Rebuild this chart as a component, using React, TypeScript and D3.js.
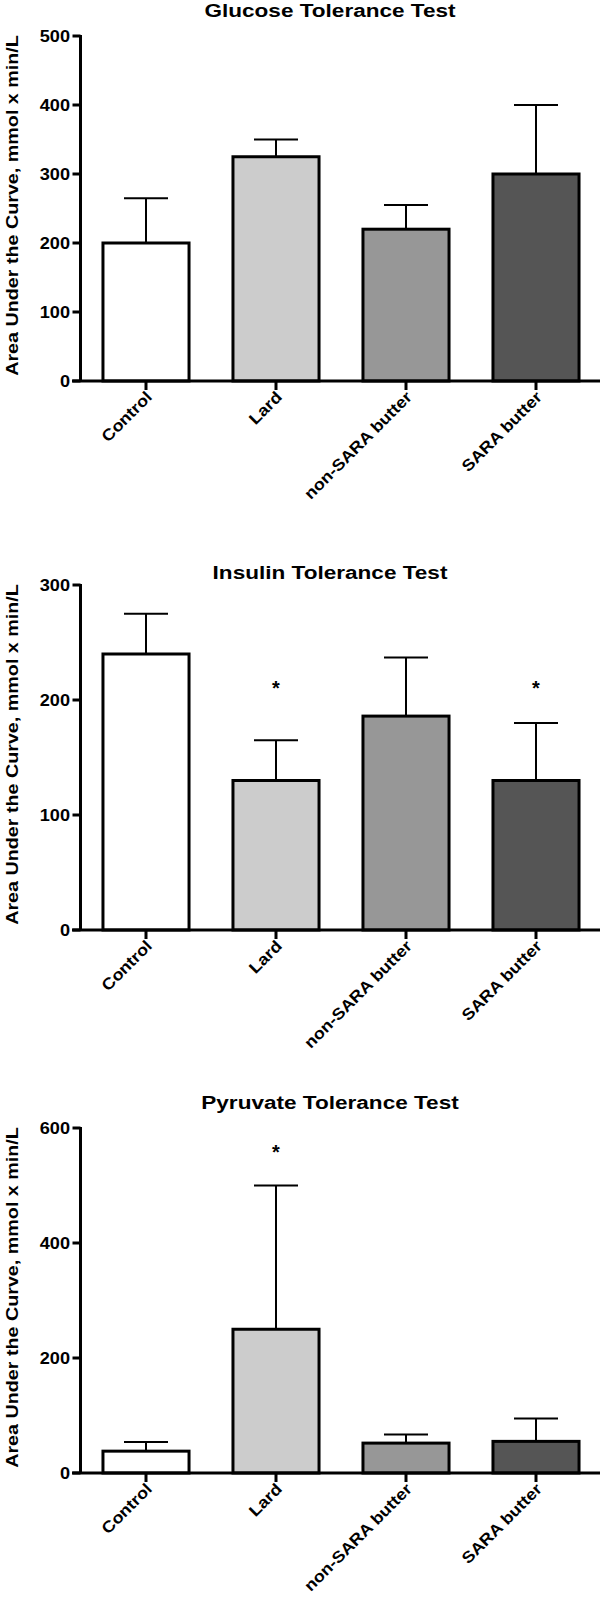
import React from "react";
import * as d3 from "d3";

const categories = ["Control", "Lard", "non-SARA butter", "SARA butter"];
const fills = ["#ffffff", "#cccccc", "#979797", "#555555"];

const glucoseMeans = [200, 325, 220, 300];
const glucoseErr = [65, 25, 35, 100];
const glucoseTicks = [0, 100, 200, 300, 400, 500];
const glucoseStars = [null, null, null, null];

const insulinMeans = [240, 130, 186, 130];
const insulinErr = [35, 35, 51, 50];
const insulinTicks = [0, 100, 200, 300];
const insulinStars = [null, 214, null, 214];

const pyruvateMeans = [38, 250, 52, 55];
const pyruvateErr = [16, 250, 15, 40];
const pyruvateTicks = [0, 200, 400, 600];
const pyruvateStars = [null, 566, null, null];

const titles = ["Glucose Tolerance Test", "Insulin Tolerance Test", "Pyruvate Tolerance Test"];
const titleGaps = [19, 6, 19];
const yLabel = "Area Under the Curve, mmol x min/L";

const FONT = "'Liberation Sans', Arial, Helvetica, sans-serif";
const W = 600;
const H = 1603;
const PLOT_H = 345;
const AXIS_X = 80.5;

type PanelProps = {
  top: number;
  title: string;
  titleGap: number;
  means: number[];
  errs: number[];
  ticks: number[];
  stars: (number | null)[];
};

function Panel({ top, title, titleGap, means, errs, ticks, stars }: PanelProps) {
  const yMax = ticks[ticks.length - 1];
  const y = d3.scaleLinear().domain([0, yMax]).range([top + PLOT_H, top]);
  const x = d3
    .scaleBand<string>()
    .domain(categories)
    .range([81, 601])
    .paddingInner(0.338)
    .paddingOuter(0.169);
  const bw = x.bandwidth();
  const base = y(0);
  return (
    <g>
      <text
        transform={`translate(330,${top - titleGap}) scale(1.22,1)`}
        textAnchor="middle"
        fontFamily={FONT}
        fontWeight="bold"
        fontSize={18.5}
      >
        {title}
      </text>
      <text
        transform={`translate(18,${top + PLOT_H / 2 - 3}) rotate(-90) scale(1.16,1)`}
        textAnchor="middle"
        fontFamily={FONT}
        fontWeight="bold"
        fontSize={17}
      >
        {yLabel}
      </text>
      {categories.map((c, i) => {
        const x0 = x(c)!;
        const cx = x0 + bw / 2;
        const yTop = y(means[i]);
        const yErr = y(means[i] + errs[i]);
        return (
          <g key={c}>
            <line x1={cx} x2={cx} y1={yTop} y2={yErr} stroke="#000" strokeWidth={2} />
            <line x1={cx - 22} x2={cx + 22} y1={yErr} y2={yErr} stroke="#000" strokeWidth={2} />
            <rect
              x={x0}
              y={yTop}
              width={bw}
              height={base - yTop}
              fill={fills[i]}
              stroke="#000"
              strokeWidth={3}
            />
            {stars[i] != null && (
              <text
                x={cx}
                y={y(stars[i] as number) + 11}
                textAnchor="middle"
                fontFamily={FONT}
                fontWeight="bold"
                fontSize={20}
              >
                *
              </text>
            )}
          </g>
        );
      })}
      {/* y axis */}
      <line x1={AXIS_X} x2={AXIS_X} y1={top - 1} y2={base} stroke="#000" strokeWidth={3} />
      {ticks.map((t) => (
        <g key={t}>
          <line x1={AXIS_X - 8} x2={AXIS_X} y1={y(t)} y2={y(t)} stroke="#000" strokeWidth={3} />
          <text
            transform={`translate(70,${y(t)}) scale(1.1,1)`}
            dy="0.36em"
            textAnchor="end"
            fontFamily={FONT}
            fontWeight="bold"
            fontSize={16.5}
          >
            {t}
          </text>
        </g>
      ))}
      {/* x axis */}
      <line x1={72} x2={600} y1={base} y2={base} stroke="#000" strokeWidth={3} />
      {categories.map((c) => {
        const cx = x(c)! + bw / 2;
        return (
          <g key={"t" + c}>
            <line x1={cx} x2={cx} y1={base} y2={base + 9} stroke="#000" strokeWidth={3} />
            <text
              transform={`translate(${cx + 7},${base + 17}) rotate(-45) scale(1.12,1)`}
              textAnchor="end"
              fontFamily={FONT}
              fontWeight="bold"
              fontSize={16}
            >
              {c}
            </text>
          </g>
        );
      })}
    </g>
  );
}

export default function App() {
  return (
    <svg
      width={W}
      height={H}
      viewBox={`0 0 ${W} ${H}`}
      style={{ position: "absolute", left: 0, top: 0, background: "#fff" }}
    >
      <rect x={0} y={0} width={W} height={H} fill="#fff" />
      {[
        { means: glucoseMeans, errs: glucoseErr, ticks: glucoseTicks, stars: glucoseStars, top: 36 },
        { means: insulinMeans, errs: insulinErr, ticks: insulinTicks, stars: insulinStars, top: 585 },
        { means: pyruvateMeans, errs: pyruvateErr, ticks: pyruvateTicks, stars: pyruvateStars, top: 1128 },
      ].map((p, i) => (
        <Panel
          key={i}
          top={p.top}
          title={titles[i]}
          titleGap={titleGaps[i]}
          means={p.means}
          errs={p.errs}
          ticks={p.ticks}
          stars={p.stars}
        />
      ))}
    </svg>
  );
}
